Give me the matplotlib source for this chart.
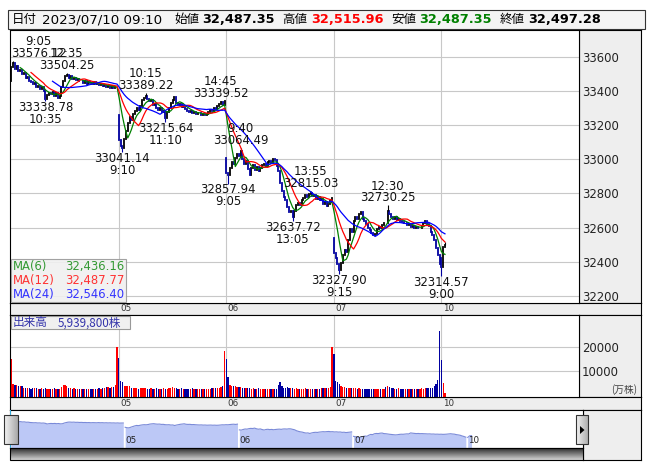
import numpy as np
import pandas as pd
import matplotlib
matplotlib.use("Agg")
import matplotlib.pyplot as plt
import matplotlib.transforms as mtransforms
from matplotlib.patches import Rectangle, Polygon
from matplotlib.colors import LinearSegmentedColormap

W, H = 653, 470
CJK = ["Noto Sans CJK JP", "DejaVu Sans"]
GRAY = "#eeeeee"
GRID = "#c8c8c8"
UP_COL, DOWN_COL = "#000000", "#0000a0"
VUP_COL, VDOWN_COL = "#ff0000", "#0000a0"
plt.rcParams["font.family"] = ["DejaVu Sans", "Noto Sans CJK JP"]

# ---------------- data: 5 minute bars, 60 per day ----------------
DAY_LABELS = ["04", "05", "06", "07", "10"]
BARS_PER_DAY = 60
DAY_OPEN = [33460, 33260, 33010, 32540, 32420]

CLOSE_0704 = [33540, 33562, 33530, 33545, 33515, 33522, 33498, 33505, 33478, 33484,
              33460, 33450, 33438, 33445, 33425, 33430, 33412, 33420, 33400, 33352,
              33375, 33390, 33380, 33392, 33372, 33385, 33360, 33368, 33420, 33455,
              33485, 33490, 33478, 33486, 33470, 33475, 33462, 33468, 33455, 33460,
              33448, 33455, 33440, 33450, 33445, 33438, 33452, 33440, 33446, 33432,
              33440, 33428, 33436, 33425, 33430, 33418, 33428, 33415, 33420, 33422]
CLOSE_0705 = [33110, 33075, 33068, 33120, 33165, 33210, 33245, 33230, 33262, 33285,
              33300, 33290, 33310, 33345, 33360, 33372, 33350, 33338, 33345, 33320,
              33325, 33300, 33290, 33298, 33275, 33280, 33240, 33275, 33300, 33330,
              33345, 33365, 33330, 33320, 33325, 33305, 33310, 33295, 33285, 33278,
              33284, 33270, 33275, 33262, 33268, 33272, 33260, 33266, 33256, 33262,
              33275, 33290, 33285, 33298, 33292, 33310, 33325, 33334, 33318, 33338]
CLOSE_0706 = [32920, 32905, 32950, 32985, 32975, 33010, 33030, 33020, 33050, 33000,
              32970, 32990, 32945, 32910, 32950, 32965, 32940, 32955, 32930, 32950,
              32965, 32975, 32960, 32985, 32990, 32978, 33000, 32995, 32960, 32930,
              32860, 32815, 32780, 32760, 32720, 32690, 32700, 32660, 32700, 32730,
              32745, 32735, 32760, 32775, 32790, 32780, 32795, 32805, 32785, 32790,
              32770, 32778, 32760, 32768, 32740, 32750, 32725, 32740, 32755, 32773]
CLOSE_0707 = [32450, 32420, 32385, 32350, 32395, 32440, 32470, 32455, 32530, 32590,
              32575, 32640, 32660, 32650, 32680, 32690, 32650, 32640, 32620, 32600,
              32585, 32570, 32555, 32565, 32590, 32605, 32600, 32615, 32630, 32625,
              32700, 32680, 32665, 32650, 32660, 32645, 32650, 32640, 32635, 32625,
              32630, 32615, 32620, 32605, 32610, 32600, 32605, 32595, 32600, 32610,
              32625, 32640, 32620, 32610, 32575, 32555, 32530, 32480, 32440, 32388]
CLOSE_0710 = [32370, 32487.35, 32497.28]

# volume in 10,000 shares
VOL_0704 = [14900, 4300, 4200, 4100, 3800, 3700, 3600, 2800, 2900, 2600,
            2700, 2500, 2600, 2900, 2600, 2500, 2400, 2600, 2500, 2800,
            2400, 2300, 2500, 2400, 2600, 2300, 2400, 2500, 3200, 4000,
            4100, 3700, 2700, 2600, 2500, 2600, 2400, 2500, 2300, 2400,
            2500, 2300, 2400, 2500, 2300, 2400, 2200, 2500, 2400, 2600,
            2500, 2800, 2600, 3200, 3100, 2900, 3300, 3100, 4200, 20000]
VOL_0705 = [15400, 5700, 5100, 3600, 3700, 3600, 3500, 2700, 2600, 2800,
            2600, 2500, 2700, 2600, 2800, 2700, 2500, 2400, 2600, 2500,
            2400, 2600, 2500, 2300, 2400, 2600, 2500, 2400, 2600, 2800,
            3200, 2900, 2700, 2500, 2400, 2600, 2500, 2400, 2300, 2500,
            2400, 2600, 2300, 2400, 2200, 2500, 2300, 2400, 2200, 2300,
            2400, 2500, 2600, 2700, 2800, 3000, 2900, 3300, 3800, 18300]
VOL_0706 = [14900, 7500, 4000, 3600, 3500, 3600, 3300, 3100, 3200, 2800,
            2700, 2900, 2600, 2700, 2500, 2600, 2400, 2500, 2600, 2400,
            2300, 2500, 2400, 2300, 2500, 2400, 2300, 2400, 2500, 4000,
            5400, 3500, 3000, 2900, 3200, 2800, 2600, 2700, 2500, 2600,
            2400, 2500, 2300, 2400, 2600, 2500, 2300, 2400, 2200, 2300,
            2400, 2300, 2500, 2600, 2700, 2600, 2800, 2900, 3400, 20000]
VOL_0707 = [17000, 5700, 5100, 4400, 3600, 3400, 3200, 3000, 2900, 2700,
            2800, 2600, 2700, 2500, 2600, 2400, 2500, 2400, 2300, 2500,
            2400, 2300, 2400, 2500, 2300, 2400, 2300, 2200, 2500, 3300,
            3600, 3300, 2700, 2600, 2500, 2400, 2600, 2500, 2300, 2400,
            2200, 2300, 2400, 2300, 2500, 2400, 2300, 2400, 2500, 2600,
            2500, 2700, 2600, 2800, 2900, 3000, 3800, 4600, 6100, 26500]
VOL_0710 = [14500, 5000, 594]

# session highs / lows written on the chart: (bar, price, time, kind)
MARKS = [(1, 33576.12, "9:05", "H"), (19, 33338.78, "10:35", "L"),
         (31, 33504.25, "12:35", "H"), (62, 33041.14, "9:10", "L"),
         (75, 33389.22, "10:15", "H"), (86, 33215.64, "11:10", "L"),
         (117, 33339.52, "14:45", "H"), (121, 32857.94, "9:05", "L"),
         (128, 33064.49, "9:40", "H"), (157, 32637.72, "13:05", "L"),
         (167, 32815.03, "13:55", "H"), (183, 32327.90, "9:15", "L"),
         (210, 32730.25, "12:30", "H"), (240, 32314.57, "9:00", "L")]

HEADER_DATE = "2023/07/10 09:10"
OHLC_NAMES = ["始値", "高値", "安値", "終値"]
OHLC_NOW = [32487.35, 32515.96, 32487.35, 32497.28]
MA_WINDOWS = [6, 12, 24]
MA_VALUES = ["32,436.16", "32,487.77", "32,546.40"]
MA_COLORS = ["#008000", "#ff0000", "#0000ff"]
MA_TEXT_COLORS = ["#339933", "#ff3333", "#3333ff"]
VOL_NOW = "5,939,800株"
PRICE_TICKS = [32200, 32400, 32600, 32800, 33000, 33200, 33400, 33600]
VOL_TICKS = [10000, 20000]

closes_by_day = [CLOSE_0704, CLOSE_0705, CLOSE_0706, CLOSE_0707, CLOSE_0710]
close = np.concatenate([np.array(c, float) for c in closes_by_day])
opens = np.concatenate([np.r_[o, c[:-1]] for o, c in zip(DAY_OPEN, closes_by_day)])
vol = np.concatenate([VOL_0704, VOL_0705, VOL_0706, VOL_0707, VOL_0710]).astype(float)
x = np.arange(len(close))
day_start = [d * BARS_PER_DAY for d in range(len(DAY_LABELS))]
up = close >= opens

# ---------------- layout (pixels) ----------------
LEFT, PLOT_R, RIGHT, NAV_R = 10, 579, 641, 583
P_TOP, P_BOT, S1_BOT, V_BOT, S2_BOT, N_BOT, SB_BOT = 30, 302.7, 315, 397.3, 410, 448, 459.5

fig = plt.figure(figsize=(W / 100, H / 100), dpi=100)


def px_axes(x0, y0, x1, y1, z=1, fc="white"):
    a = fig.add_axes([x0 / W, 1 - y1 / H, (x1 - x0) / W, (y1 - y0) / H])
    a.set_zorder(z)
    a.set_facecolor(fc)
    for s in a.spines.values():
        s.set_color("black")
        s.set_linewidth(0.8)
    return a


def blank(a):
    a.set_xticks([])
    a.set_yticks([])
    return a


def px_rect(x0, y0, x1, y1, z=5, **kw):
    r = Rectangle((x0 / W, 1 - y1 / H), (x1 - x0) / W, (y1 - y0) / H,
                  transform=fig.transFigure, zorder=z, **kw)
    fig.add_artist(r)
    return r


def px_text(xp, yp, s, **kw):
    return fig.text(xp / W, 1 - yp / H, s, **kw)


def gradient(x0, y0, x1, y1, c0, c1, vertical=True, z=3):
    a = px_axes(x0, y0, x1, y1, z=z)
    a.set_axis_off()
    cm = LinearSegmentedColormap.from_list("g", [c0, c1])
    g = np.linspace(0, 1, 64)
    g = g[:, None] if vertical else g[None, :]
    a.imshow(g, cmap=cm, aspect="auto", extent=(0, 1, 0, 1), origin="upper")
    return a


# header
px_rect(8, 10.5, 645, 29.3, z=2, facecolor="#f4f4f4", edgecolor="#333333", lw=0.8)
HY = 19.8
px_text(12, HY, "日付", family=CJK, fontsize=9, va="center")
px_text(42, HY, HEADER_DATE, fontsize=9.6, va="center")
val_cols = ["black", "#ff0000", "#008000", "black"]
for k, (nm, v) in enumerate(zip(OHLC_NAMES, OHLC_NOW)):
    x0 = 174 + k * 108.5
    px_text(x0, HY, nm, family=CJK, fontsize=9, va="center")
    px_text(x0 + 28.5, HY, f"{v:,.2f}", fontsize=9.3, fontweight="bold",
            color=val_cols[k], va="center")

# ---------------- price panel ----------------
blank(px_axes(PLOT_R, P_TOP, RIGHT, P_BOT, z=0.5, fc=GRAY))
ax_p = px_axes(LEFT, P_TOP, PLOT_R, P_BOT, z=1)
X0 = (LEFT - 11.3) / 1.792
X1 = (PLOT_R - 11.3) / 1.792
ax_p.set_xlim(X0, X1)
ax_p.set_ylim(32161, 33756)
ax_p.yaxis.tick_right()
ax_p.set_yticks(PRICE_TICKS)
ax_p.set_yticklabels([str(t) for t in PRICE_TICKS])
ax_p.set_xticks(day_start[1:])
ax_p.tick_params(axis="x", length=0, labelbottom=False)
ax_p.tick_params(axis="y", length=0, pad=2.2, labelsize=8.4, labelcolor="#222222")
ax_p.grid(True, color=GRID, lw=0.8)
ax_p.set_axisbelow(True)

lo = np.minimum(opens, close)
hi = np.maximum(opens, close)
for mask, col in [(up, UP_COL), (~up, DOWN_COL)]:
    ax_p.vlines(x[mask], lo[mask], hi[mask], color=col, lw=1.3, capstyle="projecting", zorder=2)
wicks = [(m[0], m[1]) for m in MARKS] + [(len(close) - 1, OHLC_NOW[1])]
for i, p in wicks:
    end = hi[i] if p > hi[i] else lo[i]
    ax_p.vlines(i, min(p, end), max(p, end), color=UP_COL if up[i] else DOWN_COL, lw=0.8, zorder=2)

s = pd.Series(close)
for w, col in zip(MA_WINDOWS, MA_COLORS):
    ax_p.plot(x, s.rolling(w).mean(), color=col, lw=0.9, zorder=3)

ax_w = PLOT_R - LEFT
for i, p, t, kind in MARKS:
    xpix = LEFT + (i - X0) / (X1 - X0) * ax_w
    dx = max(0.0, (LEFT + 28.5) - xpix) * 0.72
    if kind == "H":
        offs = [(5.4, f"{p:.2f}"), (13.9, t)]
    else:
        offs = [(-4.3, f"{p:.2f}"), (-12.9, t)]
    for dy, txt in offs:
        ax_p.annotate(txt, xy=(i, p), xytext=(dx, dy), textcoords="offset points",
                      ha="center", va="center", fontsize=8.4, color="#111111", zorder=4)

# MA legend box
px_rect(11, 259.3, 125.7, 302, z=4, facecolor="#f0f0f0", edgecolor="#999999", lw=0.8, alpha=0.9)
for k in range(3):
    yy = 266.7 + 13.8 * k
    px_text(12.5, yy, f"MA({MA_WINDOWS[k]})", fontsize=8.4, color=MA_TEXT_COLORS[k], va="center", zorder=6)
    px_text(124.3, yy, MA_VALUES[k], fontsize=8.4, color=MA_TEXT_COLORS[k], va="center", ha="right", zorder=6)


def date_strip(y0, y1, ax_ref):
    st = blank(px_axes(LEFT, y0, RIGHT, y1, z=0.5, fc=GRAY))
    tr = mtransforms.blended_transform_factory(ax_ref.transData, st.transAxes)
    tr = tr + mtransforms.ScaledTranslation(1.5 / 100, 0, fig.dpi_scale_trans)
    for d, lab in zip(day_start[1:], DAY_LABELS[1:]):
        st.text(d, 0.55, lab, transform=tr, fontsize=6.3, color="#333333",
                ha="left", va="center", clip_on=False)
    return st


date_strip(P_BOT, S1_BOT, ax_p)

# ---------------- volume panel ----------------
blank(px_axes(PLOT_R, S1_BOT, RIGHT, V_BOT, z=0.5, fc=GRAY))
ax_v = px_axes(LEFT, S1_BOT, PLOT_R, V_BOT, z=1)
VOL_FLOOR = -1083
ax_v.set_xlim(X0, X1)
ax_v.set_ylim(VOL_FLOOR, 33208)
ax_v.yaxis.tick_right()
ax_v.set_yticks(VOL_TICKS)
ax_v.set_yticklabels([str(t) for t in VOL_TICKS])
ax_v.set_xticks(day_start[1:])
ax_v.tick_params(axis="x", length=0, labelbottom=False)
ax_v.tick_params(axis="y", length=0, pad=2.2, labelsize=8.4, labelcolor="#222222")
ax_v.grid(True, color=GRID, lw=0.8)
ax_v.set_axisbelow(True)
ax_v.bar(x, vol - VOL_FLOOR, bottom=VOL_FLOOR, width=0.72,
         color=np.where(up, VUP_COL, VDOWN_COL), lw=0, zorder=2)
px_rect(11, 315.7, 130, 329.3, z=4, facecolor="#f0f0f0", edgecolor="#999999", lw=0.8)
px_text(12.5, 322.7, "出来高", family=CJK, fontsize=8.4, color="#3333aa", va="center", zorder=6)
px_text(58, 322.7, VOL_NOW, family=CJK, fontsize=8.4, color="#3333aa", va="center", zorder=6)
px_text(637, 390, "(万株)", family=CJK, fontsize=7, color="#444444", ha="right", va="center", zorder=6)

date_strip(V_BOT, S2_BOT, ax_v)

# ---------------- navigator ----------------
blank(px_axes(NAV_R, S2_BOT, RIGHT, SB_BOT, z=0.5, fc=GRAY))
nav = blank(px_axes(LEFT, S2_BOT, NAV_R, N_BOT, z=1))
NX0 = (LEFT - 11) / 1.903
NX1 = (NAV_R - 11) / 1.903
nav.set_xlim(NX0, NX1)
nav.set_ylim(31600, 34370)
for d in range(len(DAY_LABELS)):
    sl = slice(day_start[d], day_start[d] + len(closes_by_day[d]))
    nav.fill_between(x[sl], close[sl], 31600, color="#bcc8f6", lw=0)
    nav.plot(x[sl], close[sl], color="#7a8ad8", lw=0.8)
for d, lab in zip(day_start[1:], DAY_LABELS[1:]):
    nav.text(d + 0.2, 0.2, lab, transform=nav.get_xaxis_transform(), fontsize=6.3,
             color="#222222", ha="left", va="center")
for xl in (LEFT + 0.5, NAV_R):
    px_rect(xl - 0.4, S2_BOT, xl + 0.4, N_BOT, z=4, facecolor="#33aadd", lw=0)

# scrollbar
gradient(LEFT, N_BOT, NAV_R, SB_BOT, "#2a2a2a", "#d4d4d4", z=3)
px_rect(LEFT, N_BOT, NAV_R, SB_BOT, z=5, fill=False, edgecolor="black", lw=0.8)
for xd in (255, 337):
    px_rect(xd - 0.4, N_BOT, xd + 0.4, SB_BOT, z=5, facecolor="black", lw=0)

# handles
gradient(4, 415, 17.5, 444, "#f4f4f4", "#a8a8a8", vertical=False, z=6)
px_rect(4, 415, 17.5, 444, z=7, fill=False, edgecolor="#333333", lw=0.8)
gradient(575.6, 415, 588, 444, "#f4f4f4", "#a8a8a8", vertical=False, z=6)
px_rect(575.6, 415, 588, 444, z=7, fill=False, edgecolor="#333333", lw=0.8)
tri = Polygon([(580 / W, 1 - 426 / H), (580 / W, 1 - 434 / H), (584.5 / W, 1 - 430 / H)],
              closed=True, transform=fig.transFigure, facecolor="black", zorder=8)
fig.add_artist(tri)

fig.savefig("out.png", dpi=100)
